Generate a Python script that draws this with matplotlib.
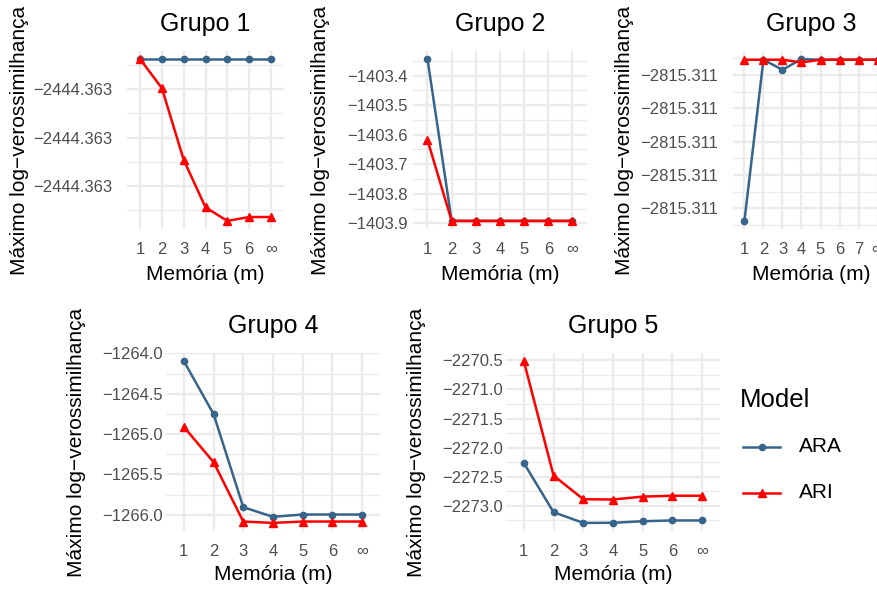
import matplotlib
matplotlib.use('Agg')
import matplotlib.pyplot as plt
from matplotlib.lines import Line2D
import numpy as np

plt.rcParams['font.family'] = ['Liberation Sans', 'DejaVu Sans']

# ---------------- data ----------------
mem_labels = ["1", "2", "3", "4", "5", "6", "\u221e"]
mem_labels_g3 = ["1", "2", "3", "4", "5", "6", "7", "\u221e"]

g1_ara = [-2444.362919, -2444.362919, -2444.362919, -2444.362919, -2444.362919, -2444.362919, -2444.362919]
g1_ari = [-2444.362919, -2444.362949, -2444.363023, -2444.363072, -2444.363086, -2444.363082, -2444.363082]
g1_ticks = [-2444.36305, -2444.36300, -2444.36295]

g2_ara = [-1403.344, -1403.892, -1403.892, -1403.892, -1403.892, -1403.892, -1403.892]
g2_ari = [-1403.618, -1403.892, -1403.892, -1403.892, -1403.892, -1403.892, -1403.892]
g2_ticks = [-1403.9, -1403.8, -1403.7, -1403.6, -1403.5, -1403.4]

g3_ara = [-2815.311069, -2815.310827, -2815.310842, -2815.310826, -2815.310827, -2815.310827, -2815.310827, -2815.310827]
g3_ari = [-2815.310827, -2815.310827, -2815.310827, -2815.310831, -2815.310827, -2815.310827, -2815.310827, -2815.310827]
g3_ticks = [-2815.31105, -2815.31100, -2815.31095, -2815.31090, -2815.31085]

g4_ara = [-1264.095, -1264.751, -1265.905, -1266.025, -1265.996, -1265.996, -1265.996]
g4_ari = [-1264.910, -1265.347, -1266.083, -1266.100, -1266.083, -1266.083, -1266.083]
g4_ticks = [-1266.0, -1265.5, -1265.0, -1264.5, -1264.0]

g5_ara = [-2272.263, -2273.108, -2273.292, -2273.290, -2273.263, -2273.250, -2273.250]
g5_ari = [-2270.512, -2272.478, -2272.885, -2272.890, -2272.840, -2272.825, -2272.825]
g5_ticks = [-2273.0, -2272.5, -2272.0, -2271.5, -2271.0, -2270.5]

titles = ["Grupo 1", "Grupo 2", "Grupo 3", "Grupo 4", "Grupo 5"]
models = ["ARA", "ARI"]
ylabel = "M\u00e1ximo log\u2212verossimilhan\u00e7a"
xlabel = "Mem\u00f3ria (m)"

# ---------------- style ----------------
W, H = 878, 591
C_ARA = "#36648B"
C_ARI = "#FF0000"
GRID = "#EBEBEB"
TICKC = "#4D4D4D"
FS_TICK = 12
FS_AXT = 15
FS_TITLE = 18

fig = plt.figure(figsize=(W / 100, H / 100), dpi=100)


def fy(y):
    return 1 - y / H


def fx(x):
    return x / W


panels = [
    dict(title=titles[0], labels=mem_labels, ara=g1_ara, ari=g1_ari, ticks=g1_ticks, fmt="{:.3f}",
         box=(127, 51, 284, 229), ypad=15, ylx=20, tb=31, xb=280),
    dict(title=titles[1], labels=mem_labels, ara=g2_ara, ari=g2_ari, ticks=g2_ticks, fmt="{:.1f}",
         box=(413, 51, 587, 229), ypad=5, ylx=321, tb=31, xb=280),
    dict(title=titles[2], labels=mem_labels_g3, ara=g3_ara, ari=g3_ari, ticks=g3_ticks, fmt="{:.3f}",
         box=(733, 51, 889, 229), ypad=15, ylx=625, tb=31, xb=280),
    dict(title=titles[3], labels=mem_labels, ara=g4_ara, ari=g4_ari, ticks=g4_ticks, fmt="{:.1f}",
         box=(166, 353, 380, 531), ypad=3, ylx=77, tb=333, xb=580),
    dict(title=titles[4], labels=mem_labels, ara=g5_ara, ari=g5_ari, ticks=g5_ticks, fmt="{:.1f}",
         box=(506, 353, 720, 531), ypad=3, ylx=417, tb=333, xb=580),
]

for p in panels:
    x0, y0, x1, y1 = p["box"]
    ax = fig.add_axes([fx(x0), fy(y1), (x1 - x0) / W, (y1 - y0) / H])
    n = len(p["labels"])
    xs = np.arange(n)
    ax.set_xlim(-0.6, n - 0.4)
    allv = list(p["ara"]) + list(p["ari"])
    lo, hi = min(allv), max(allv)
    pad = 0.05 * (hi - lo)
    ax.set_ylim(lo - pad, hi + pad)

    ticks = p["ticks"]
    step = ticks[1] - ticks[0]
    minors = [ticks[0] - step / 2] + [t + step / 2 for t in ticks]
    minors = [m for m in minors if lo - pad <= m <= hi + pad]

    ax.set_yticks(ticks)
    ax.set_yticklabels([p["fmt"].format(t).replace("-", "\u2212") for t in ticks])
    ax.set_yticks(minors, minor=True)
    ax.set_xticks(xs)
    ax.set_xticklabels(p["labels"])

    ax.grid(True, which="major", axis="both", color=GRID, lw=1.7, zorder=0)
    ax.grid(True, which="minor", axis="y", color=GRID, lw=0.9, zorder=0)
    ax.set_axisbelow(True)
    ax.tick_params(axis="both", which="both", length=0, colors=TICKC, labelsize=FS_TICK)
    ax.tick_params(axis="y", pad=p["ypad"] * 0.72)
    ax.tick_params(axis="x", pad=9.5)
    for s in ax.spines.values():
        s.set_visible(False)
    ax.set_facecolor("none")

    ax.plot(xs, p["ara"], color=C_ARA, lw=1.8, marker="o", ms=4.5, zorder=3)
    ax.plot(xs, p["ari"], color=C_ARI, lw=1.8, marker="^", ms=6, zorder=4)

    cx = (x0 + x1) / 2
    fig.text(fx(cx), fy(p["tb"]), p["title"], ha="center", va="baseline", fontsize=FS_TITLE, color="black")
    fig.text(fx(cx), fy(p["xb"]), xlabel, ha="center", va="baseline", fontsize=FS_AXT, color="black")
    fig.text(fx(p["ylx"]), fy((y0 + y1) / 2), ylabel, ha="center", va="center", rotation=90,
             fontsize=FS_AXT, color="black")

# ---------------- legend ----------------
fig.text(fx(740), fy(407), "Model", ha="left", va="baseline", fontsize=18.5, color="black")
leg_y = [446.5, 493]
leg_c = [C_ARA, C_ARI]
leg_m = ["o", "^"]
leg_ms = [4.5, 6]
for name, yy, c, m, ms in zip(models, leg_y, leg_c, leg_m, leg_ms):
    fig.add_artist(Line2D([fx(743), fx(780)], [fy(yy), fy(yy)], color=c, lw=1.8,
                          transform=fig.transFigure))
    fig.add_artist(Line2D([fx(761.5)], [fy(yy)], color=c, marker=m, ms=ms, lw=0,
                          transform=fig.transFigure))
    fig.text(fx(799), fy(yy), name, ha="left", va="center", fontsize=15, color="black")

fig.savefig("out.png", dpi=100, facecolor="white")
